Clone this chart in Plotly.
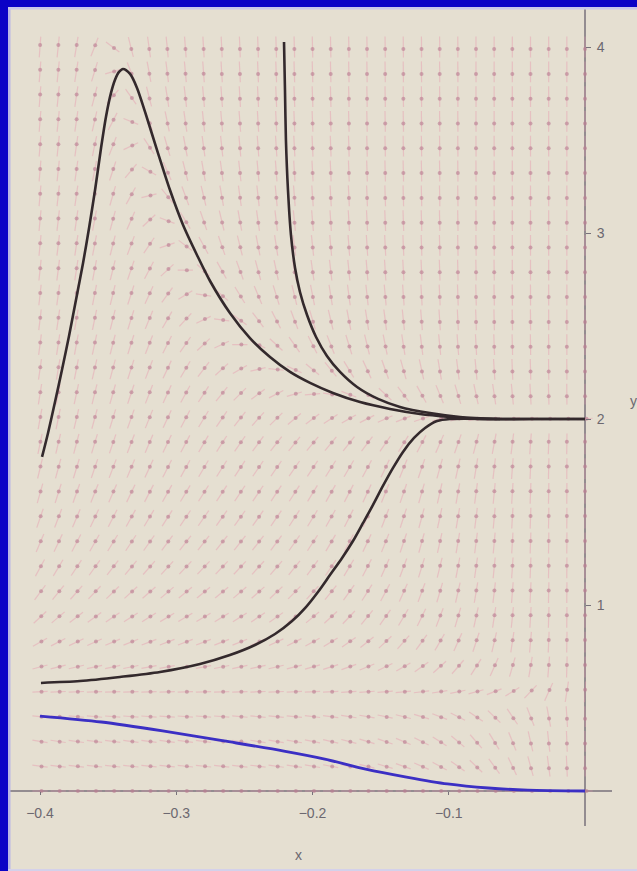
import numpy as np
import plotly.graph_objects as go

# ---------------- data ----------------
# hump solution curve (starts at x=-0.4, y~1.8)
hump_x = [-0.3985, -0.3941, -0.3890, -0.3839, -0.3787, -0.3736, -0.3684, -0.3640, -0.3596,
          -0.3552, -0.3516, -0.3479, -0.3450, -0.3420, -0.3391, -0.3339, -0.3288, -0.3229,
          -0.3141, -0.3046, -0.2950, -0.2848, -0.2752, -0.2606, -0.2459, -0.2312, -0.2165,
          -0.2018, -0.1850, -0.1651, -0.1431, -0.1211, -0.0991, -0.0771, -0.04, 0.0]
hump_y = [1.796, 1.925, 2.091, 2.263, 2.446, 2.640, 2.839, 3.027, 3.231,
          3.457, 3.624, 3.753, 3.823, 3.866, 3.882, 3.855, 3.780, 3.651,
          3.446, 3.231, 3.043, 2.882, 2.742, 2.570, 2.435, 2.333, 2.253,
          2.194, 2.140, 2.091, 2.054, 2.027, 2.011, 2.000, 2.0, 2.0]

# steep solution curve starting near the top (x~-0.22, y~4)
steep_x = [-0.2209, -0.2202, -0.2195, -0.2180, -0.2158, -0.2128, -0.2092, -0.2040, -0.1974,
           -0.1894, -0.1798, -0.1673, -0.1519, -0.1358, -0.1138, -0.0917, -0.0624]
steep_y = [4.027, 3.769, 3.500, 3.231, 2.989, 2.812, 2.683, 2.559, 2.441,
           2.339, 2.253, 2.172, 2.108, 2.065, 2.032, 2.011, 2.000]

# lower black curve rising to y=2
rise_x = [-0.3993, -0.3706, -0.3413, -0.3119, -0.2826, -0.2606, -0.2422, -0.2275, -0.2150,
          -0.2048, -0.1960, -0.1872, -0.1783, -0.1703, -0.1629, -0.1556, -0.1483, -0.1409,
          -0.1336, -0.1255, -0.1174, -0.1086, -0.0991, -0.0624, 0.0]
rise_y = [0.581, 0.591, 0.613, 0.640, 0.683, 0.731, 0.785, 0.844, 0.914,
          0.989, 1.070, 1.161, 1.253, 1.344, 1.441, 1.538, 1.640, 1.737,
          1.823, 1.898, 1.952, 1.989, 2.000, 2.0, 2.0]

# blue curve decaying to y=0
blue_x = [-0.400, -0.355, -0.310, -0.265, -0.221, -0.191, -0.161, -0.131, -0.101, -0.071, -0.042, 0.0]
blue_y = [0.403, 0.371, 0.323, 0.269, 0.215, 0.172, 0.118, 0.075, 0.038, 0.016, 0.005, 0.0]

x_tick_vals = [-0.4, -0.3, -0.2, -0.1]
y_tick_vals = [1, 2, 3, 4]

# direction-field grid (31 x 31 arrows, like the original)
field_x_start, field_x_end, field_nx = -0.4, 0.0, 31
field_y_start, field_y_end, field_ny = 0.0, 4.0, 31


def slope(x, y):
    """right-hand side used for the faint direction field"""
    B = 27.0 * np.exp(-10.0 * (x + 0.4))
    return 0.5 * y * (y - 0.5) * ((2.0 - y) / (x * x + 1e-4) + B)


# ---------------- figure ----------------
W, H = 637, 871
PX_PER_X = 1362.5
PX_PER_Y = 186.0
X0_PX, Y0_PX = 585, 791
x_range = [(0 - X0_PX) / PX_PER_X, (W - X0_PX) / PX_PER_X]
y_range = [-(H - Y0_PX) / PX_PER_Y, Y0_PX / PX_PER_Y]

fig = go.Figure()

gx = np.linspace(field_x_start, field_x_end, field_nx)
gy = np.linspace(field_y_start, field_y_end, field_ny)
dxc = gx[1] - gx[0]
dyc = gy[1] - gy[0]
seg_x, seg_y, dot_x, dot_y = [], [], [], []
L = 0.42
for xv in gx:
    for yv in gy:
        s = slope(xv, yv)
        u, v = 1.0, s * dxc / dyc
        n = np.hypot(u, v)
        u, v = u / n, v / n
        hx, hy = L * dxc * u, L * dyc * v
        seg_x += [xv - hx, xv + hx, None]
        seg_y += [yv - hy, yv + hy, None]
        dot_x.append(xv + 0.2 * hx)
        dot_y.append(yv + 0.2 * hy)

fig.add_trace(go.Scatter(x=seg_x, y=seg_y, mode="lines",
                         line=dict(color="rgba(232,150,172,0.42)", width=1.2),
                         hoverinfo="skip", showlegend=False))
fig.add_trace(go.Scatter(x=dot_x, y=dot_y, mode="markers",
                         marker=dict(color="rgba(185,125,145,0.62)", size=4, line=dict(width=0)),
                         hoverinfo="skip", showlegend=False))

curve_color = "#33292c"
for cx, cy in [(hump_x, hump_y), (steep_x, steep_y), (rise_x, rise_y)]:
    fig.add_trace(go.Scatter(x=cx, y=cy, mode="lines",
                             line=dict(color=curve_color, width=2.6, shape="spline", smoothing=0.8),
                             hoverinfo="skip", showlegend=False))
fig.add_trace(go.Scatter(x=blue_x, y=blue_y, mode="lines",
                         line=dict(color="#3b2fc4", width=2.8, shape="spline", smoothing=0.8),
                         hoverinfo="skip", showlegend=False))

axis_color = "#77717a"
shapes = [
    dict(type="line", xref="x", yref="y", x0=x_range[0] + 10 / PX_PER_X, x1=(612 - X0_PX) / PX_PER_X,
         y0=0, y1=0, line=dict(color=axis_color, width=1.5), layer="below"),
    dict(type="line", xref="x", yref="y", x0=0, x1=0,
         y0=-(826 - Y0_PX) / PX_PER_Y, y1=y_range[1], line=dict(color=axis_color, width=1.5), layer="below"),
    # blue photo border
    dict(type="rect", xref="paper", yref="paper", x0=0, x1=8 / W, y0=0, y1=1,
         fillcolor="#0b02c6", line=dict(width=0), layer="above"),
    dict(type="rect", xref="paper", yref="paper", x0=0, x1=1, y0=1 - 7 / H, y1=1,
         fillcolor="#0b02c6", line=dict(width=0), layer="above"),
    dict(type="rect", xref="paper", yref="paper", x0=8 / W, x1=10.5 / W, y0=0, y1=1 - 7 / H,
         fillcolor="#b9b6e6", line=dict(width=0), layer="above"),
    dict(type="rect", xref="paper", yref="paper", x0=8 / W, x1=1, y0=1 - 9.5 / H, y1=1 - 7 / H,
         fillcolor="#c9c6ea", line=dict(width=0), layer="above"),
    dict(type="rect", xref="paper", yref="paper", x0=8 / W, x1=1, y0=0, y1=2 / H,
         fillcolor="#d4d1ea", line=dict(width=0), layer="above"),
]

tick_font = dict(family="Liberation Sans, Arial, sans-serif", size=14, color="#6c6870")

fig.update_layout(
    width=W, height=H,
    margin=dict(l=0, r=0, t=0, b=0),
    paper_bgcolor="#e5dfd1",
    plot_bgcolor="#e5dfd1",
    shapes=shapes,
    hovermode=False,
    xaxis=dict(range=x_range, domain=[0, 1], anchor="free", position=(H - Y0_PX) / H,
               showgrid=False, zeroline=False, showline=False,
               tickvals=x_tick_vals, ticks="outside", ticklen=3, tickcolor=axis_color,
               tickfont=tick_font, ticklabelstandoff=6, fixedrange=True),
    yaxis=dict(range=y_range, domain=[0, 1], anchor="free", position=X0_PX / W, side="right",
               showgrid=False, zeroline=False, showline=False,
               tickvals=y_tick_vals, ticks="outside", ticklen=5, tickcolor=axis_color,
               tickfont=tick_font, ticklabelstandoff=3, fixedrange=True),
    annotations=[
        dict(text="x", xref="paper", yref="paper", x=298 / W, y=1 - 855 / H,
             showarrow=False, font=tick_font, xanchor="center", yanchor="middle"),
        dict(text="y", xref="paper", yref="paper", x=628 / W, y=1 - 401 / H,
             showarrow=False, font=tick_font, xanchor="left", yanchor="middle"),
    ],
)

fig.write_html(
    "out.html",
    config={"displayModeBar": False, "staticPlot": True},
    post_script="document.body.style.margin='0';document.body.style.overflow='hidden';"
                "document.documentElement.style.overflow='hidden';",
)
